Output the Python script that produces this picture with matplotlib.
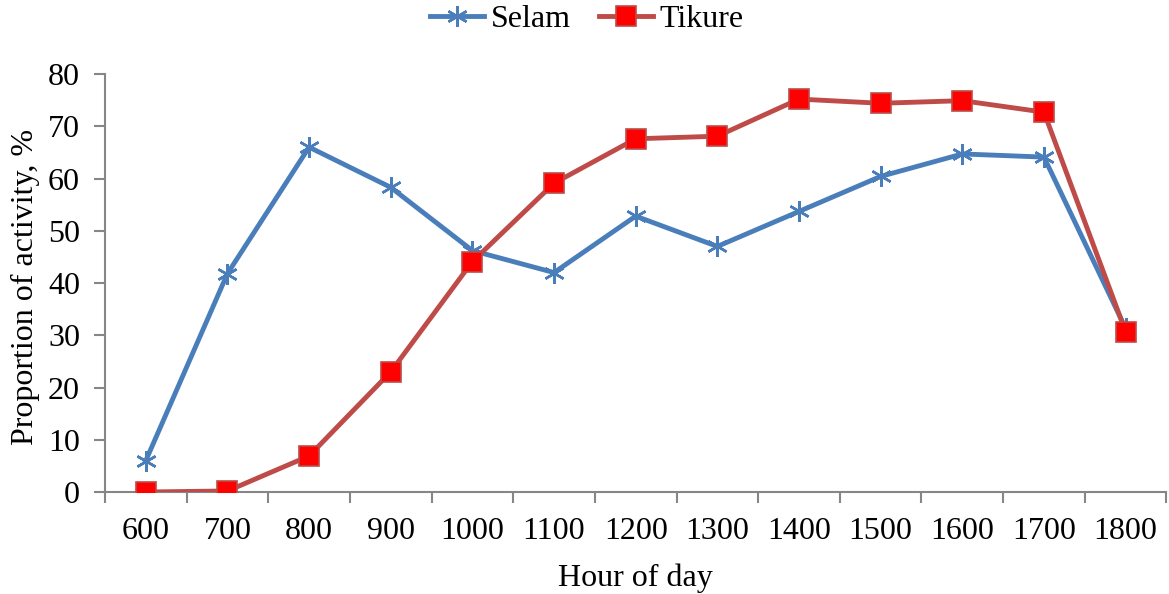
import numpy as np
import matplotlib.pyplot as plt
from matplotlib.ticker import FixedLocator, NullFormatter, FixedFormatter
from matplotlib.lines import Line2D

# data
hours = ['600', '700', '800', '900', '1000', '1100', '1200',
         '1300', '1400', '1500', '1600', '1700', '1800']
selam = [6.0, 41.8, 66.0, 58.3, 46.2, 42.0, 52.8, 47.0, 53.7, 60.4, 64.7, 64.1, 31.3]
tikure = [0.0, 0.2, 6.9, 23.0, 44.1, 59.1, 67.6, 68.1, 75.2, 74.4, 74.9, 72.7, 30.7]

blue = '#4A7EBB'
red_line = '#BE4B48'

plt.rcParams['font.family'] = ['Liberation Serif', 'DejaVu Serif']
plt.rcParams['font.size'] = 23

fig = plt.figure(figsize=(11.69, 5.94), dpi=100)
ax = fig.add_axes([0.0898, 0.1717, 0.908, 0.7037])

x = np.arange(len(hours))
ax.plot(x, selam, color=blue, lw=3.5, marker=(6, 2, 0), ms=15, mew=1.8,
        label='Selam', zorder=3)
ax.plot(x, tikure, color=red_line, lw=3.5, marker='s', ms=14,
        mfc='#FF0000', mec=red_line, mew=1.2, label='Tikure', zorder=4)

ax.set_xlim(-0.5, len(hours) - 0.5)
ax.set_ylim(0, 80)
ax.set_yticks(range(0, 81, 10))

# category axis: tick marks between categories, labels at centers
ax.xaxis.set_major_locator(FixedLocator(np.arange(-0.5, len(hours), 1.0)))
ax.xaxis.set_major_formatter(NullFormatter())
ax.xaxis.set_minor_locator(FixedLocator(x))
ax.xaxis.set_minor_formatter(FixedFormatter(hours))
ax.tick_params(axis='x', which='minor', length=0, pad=18)
ax.tick_params(axis='x', which='major', length=8, width=1.5, color='#868686')
ax.tick_params(axis='y', length=8, width=1.5, color='#868686', pad=10)

for s in ['top', 'right']:
    ax.spines[s].set_visible(False)
for s in ['left', 'bottom']:
    ax.spines[s].set_color('#868686')
    ax.spines[s].set_linewidth(1.5)

ax.set_xlabel('Hour of day')
ax.xaxis.set_label_coords(0.5, -0.172)
ax.set_ylabel('Proportion of activity, %')
ax.yaxis.set_label_coords(-0.061, 0.49)

h_selam = Line2D([], [], color=blue, lw=3.5, marker=(6, 2, 0), ms=15, mew=1.8)
h_tik = Line2D([], [], color=red_line, lw=3.5, marker='s', ms=14,
               mfc='#FF0000', mec=red_line, mew=1.2)
fig.legend([h_selam, h_tik], ['Selam', 'Tikure'], loc='upper center',
           bbox_to_anchor=(0.502, 1.04), ncol=2, frameon=False,
           handlelength=1.7, columnspacing=0.9, handletextpad=0.2)

fig.savefig('out.png', dpi=100)
